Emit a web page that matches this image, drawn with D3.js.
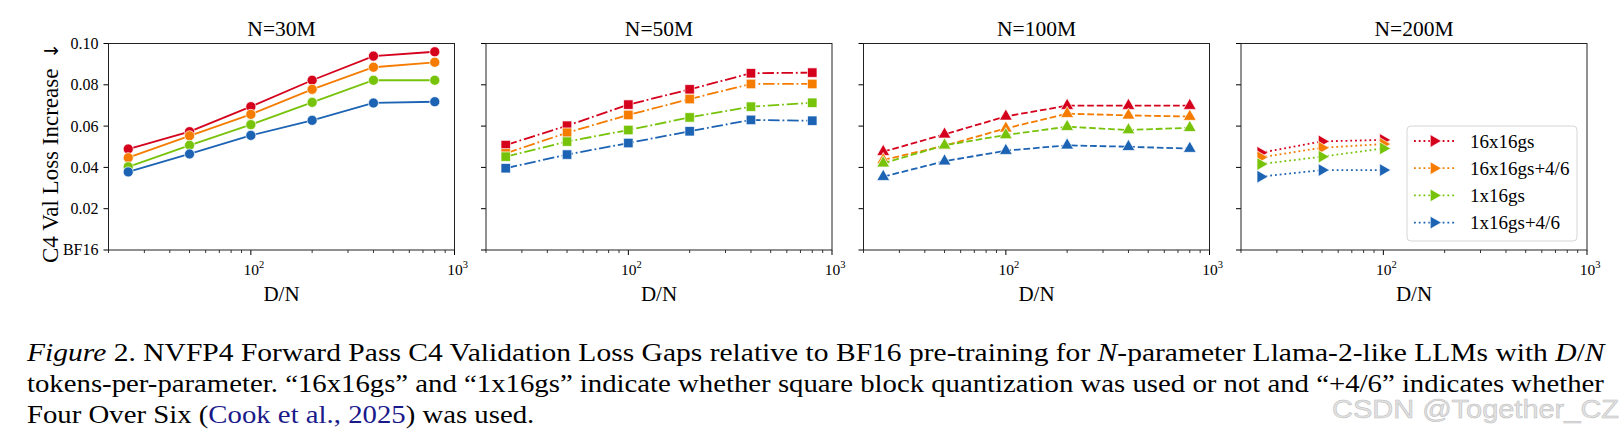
<!DOCTYPE html>
<html>
<head>
<meta charset="utf-8">
<script src="https://cdn.jsdelivr.net/npm/d3@7"></script>
<style>
  html, body { margin: 0; padding: 0; background: #fff; }
  svg { display: block; }
  text { font-family: "Liberation Serif", "Times New Roman", serif; fill: #000; }
</style>
</head>
<body>
<div id="chartContainer"></div>
<script>
// Data
const ratios = [25, 50, 100, 200, 400, 800];
const panelTitles = ['N=30M', 'N=50M', 'N=100M', 'N=200M'];
const seriesNames = ['16x16gs', '16x16gs+4/6', '1x16gs', '1x16gs+4/6'];
const seriesColors = ['#d5001c', '#f57c00', '#77c30a', '#1c63b4'];
const yTickValues = [0, 0.02, 0.04, 0.06, 0.08, 0.10];
const yTickLabels = ['BF16', '0.02', '0.04', '0.06', '0.08', '0.10'];
const xMajorTicks = [100, 1000];
const xTickExponents = ['2', '3'];

// loss gap per series (rows: 16x16gs, 16x16gs+4/6, 1x16gs, 1x16gs+4/6)
const gap30M = [
  [0.0489, 0.0573, 0.0694, 0.0822, 0.0939, 0.0960],
  [0.0447, 0.0553, 0.0657, 0.0778, 0.0885, 0.0909],
  [0.0403, 0.0507, 0.0607, 0.0715, 0.0822, 0.0822],
  [0.0378, 0.0465, 0.0555, 0.0628, 0.0712, 0.0718]
];
const gap50M = [
  [0.0508, 0.0602, 0.0704, 0.0778, 0.0856, 0.0859],
  [0.0468, 0.0568, 0.0654, 0.0731, 0.0804, 0.0804],
  [0.0452, 0.0525, 0.0581, 0.0642, 0.0694, 0.0713],
  [0.0396, 0.0462, 0.0518, 0.0575, 0.0630, 0.0626]
];
const gap100M = [
  [0.0476, 0.0560, 0.0647, 0.0699, 0.0699, 0.0699],
  [0.0436, 0.0505, 0.0589, 0.0660, 0.0652, 0.0646],
  [0.0420, 0.0507, 0.0557, 0.0597, 0.0581, 0.0592],
  [0.0355, 0.0430, 0.0481, 0.0507, 0.0500, 0.0491]
];
const gap200M = [
  [0.0471, 0.0526, 0.0533],
  [0.0449, 0.0495, 0.0513],
  [0.0416, 0.0452, 0.0492],
  [0.0355, 0.0387, 0.0387]
];
const panelData = [gap30M, gap50M, gap100M, gap200M];

// Layout
const width = 1624, height = 438;
const plotLeft = 108.5, plotTop = 43.5, plotBottom = 250;
const panelW = 346, panelGap = 31.5;
const lineW = 1.8;
const dashes = ['none', `${6.4*lineW},${1.6*lineW},${1*lineW},${1.6*lineW}`, `${3.7*lineW},${1.6*lineW}`, `${1*lineW},${1.65*lineW}`];
const markerTypes = [
  {type: d3.symbolCircle, size: 80, rotate: 0},
  {type: d3.symbolSquare, size: 90, rotate: 0},
  {type: d3.symbolTriangle, size: 72, rotate: 0},
  {type: d3.symbolTriangle, size: 72, rotate: 90}
];

const svg = d3.select('#chartContainer')
  .append('svg')
  .attr('width', width)
  .attr('height', height);

const yScale = d3.scaleLinear().domain([0, 0.10]).range([plotBottom, plotTop]);

panelData.forEach((panel, p) => {
  const x0 = plotLeft + p * (panelW + panelGap);
  const xScale = d3.scaleLog().domain([20, 1000]).range([x0, x0 + panelW]);
  const g = svg.append('g').attr('class', 'panel');

  // x axis: major + minor ticks
  const minor = [];
  [10, 100].forEach(dec => {
    for (let k = 2; k <= 9; k++) {
      const v = dec * k;
      if (v >= 20 && v <= 1000 && v !== 100 && v !== 1000) minor.push(v);
    }
  });
  g.selectAll('.minor-tick').data(minor).enter().append('line')
    .attr('x1', d => xScale(d)).attr('x2', d => xScale(d))
    .attr('y1', plotBottom).attr('y2', plotBottom + 3)
    .attr('stroke', '#000').attr('stroke-width', 0.8);
  g.selectAll('.major-tick').data(xMajorTicks).enter().append('line')
    .attr('x1', d => xScale(d)).attr('x2', d => xScale(d))
    .attr('y1', plotBottom).attr('y2', plotBottom + 5)
    .attr('stroke', '#000').attr('stroke-width', 1);
  const xl = g.selectAll('.xlab').data(xMajorTicks).enter().append('text')
    .attr('x', d => xScale(d) + 3).attr('y', 275)
    .attr('text-anchor', 'middle').style('font-size', '15.5px');
  xl.append('tspan').text('10');
  xl.append('tspan').attr('dy', -7).style('font-size', '10.5px').text((d, i) => xTickExponents[i]);

  // y ticks
  g.selectAll('.ytick').data(yTickValues).enter().append('line')
    .attr('x1', x0 - 5).attr('x2', x0)
    .attr('y1', d => yScale(d)).attr('y2', d => yScale(d))
    .attr('stroke', '#000').attr('stroke-width', 1);
  if (p === 0) {
    g.selectAll('.ylab').data(yTickValues).enter().append('text')
      .attr('x', x0 - 10).attr('y', d => yScale(d)).attr('dy', '0.34em')
      .attr('text-anchor', 'end').style('font-size', '16px')
      .text((d, i) => yTickLabels[i]);
    const yl = svg.append('text')
      .attr('transform', 'translate(58, 263) rotate(-90)')
      .attr('text-anchor', 'start').style('font-size', '23px');
    yl.append('tspan').text('C4 Val Loss Increase ');
    yl.append('tspan').attr('dx', 4)
      .style('font-family', '"DejaVu Sans", sans-serif').style('font-size', '19px')
      .text('\u2193');
  }

  // frame
  g.append('rect')
    .attr('x', x0).attr('y', plotTop)
    .attr('width', panelW).attr('height', plotBottom - plotTop)
    .attr('fill', 'none').attr('stroke', '#222').attr('stroke-width', 1);

  // title and x label
  g.append('text').attr('x', x0 + panelW / 2).attr('y', 36)
    .attr('text-anchor', 'middle').style('font-size', '21.5px').text(panelTitles[p]);
  g.append('text').attr('x', x0 + panelW / 2).attr('y', 301)
    .attr('text-anchor', 'middle').style('font-size', '21px').text('D/N');

  // series
  const line = d3.line()
    .x(d => xScale(d[0]))
    .y(d => yScale(d[1]));
  panel.forEach((vals, s) => {
    const pts = vals.map((v, i) => [ratios[i], v]);
    g.append('path').datum(pts)
      .attr('fill', 'none')
      .attr('stroke', seriesColors[s])
      .attr('stroke-width', lineW)
      .attr('stroke-dasharray', dashes[p])
      .attr('d', line);
    const m = markerTypes[p];
    g.selectAll(`.mk-${s}`).data(pts).enter().append('path')
      .attr('transform', d => `translate(${xScale(d[0])}, ${yScale(d[1])}) rotate(${m.rotate})`)
      .attr('d', d3.symbol().type(m.type).size(m.size))
      .attr('fill', seriesColors[s])
      .attr('stroke', '#fff').attr('stroke-width', 0.7);
  });

  // legend in the last panel
  if (p === 3) {
    const lg = svg.append('g').attr('transform', 'translate(1407, 126)');
    lg.append('rect').attr('width', 170).attr('height', 115).attr('rx', 4)
      .attr('fill', '#fff').attr('fill-opacity', 0.8)
      .attr('stroke', '#d6d6d6').attr('stroke-width', 1);
    seriesNames.forEach((name, s) => {
      const cy = 15 + s * 27.2;
      lg.append('line').attr('x1', 7).attr('x2', 47).attr('y1', cy).attr('y2', cy)
        .attr('stroke', seriesColors[s]).attr('stroke-width', lineW)
        .attr('stroke-dasharray', dashes[3]);
      lg.append('path')
        .attr('transform', `translate(27, ${cy}) rotate(90)`)
        .attr('d', d3.symbol().type(d3.symbolTriangle).size(72))
        .attr('fill', seriesColors[s]).attr('stroke', '#fff').attr('stroke-width', 0.7);
      lg.append('text').attr('x', 63).attr('y', cy).attr('dy', '0.35em')
        .style('font-size', '19px').text(name);
    });
  }
});

// Caption
const capLeft = 27, capRight = 1605;
const cap = svg.append('g').attr('class', 'caption');
function captionLine(parts) {
  const t = cap.append('text').attr('y', 0).style('font-size', '25px');
  parts.forEach(pt => {
    const ts = t.append('tspan').text(pt.t);
    if (pt.i) ts.style('font-style', 'italic');
    if (pt.c) ts.style('fill', pt.c);
  });
  return t;
}
const l1 = captionLine([
  {t: 'Figure', i: true}, {t: ' 2. NVFP4 Forward Pass C4 Validation Loss Gaps relative to BF16 pre-training for '},
  {t: 'N', i: true}, {t: '-parameter Llama-2-like LLMs with '}, {t: 'D', i: true}, {t: '/'}, {t: 'N', i: true}
]);
const l2 = captionLine([
  {t: 'tokens-per-parameter. \u201c16x16gs\u201d and \u201c1x16gs\u201d indicate whether square block quantization was used or not and \u201c+4/6\u201d indicates whether'}
]);
const l3 = captionLine([
  {t: 'Four Over Six ('}, {t: 'Cook et al., 2025', c: '#1a1a8a'}, {t: ') was used.'}
]);
const w1 = l1.node().getComputedTextLength();
const w2 = l2.node().getComputedTextLength();
const s1 = (capRight - capLeft) / w1, s2 = (capRight - capLeft) / w2;
l1.attr('transform', `translate(${capLeft}, 361) scale(${s1}, 1)`);
l2.attr('transform', `translate(${capLeft}, 392) scale(${s2}, 1)`);
l3.attr('transform', `translate(${capLeft}, 423) scale(${s2}, 1)`);

// watermark
svg.append('text')
  .attr('x', 1332).attr('y', 418)
  .attr('textLength', 287).attr('lengthAdjust', 'spacingAndGlyphs')
  .style('font-family', '"Liberation Sans", Arial, sans-serif')
  .style('font-size', '25px')
  .style('fill', '#e2e2e2').style('stroke', '#bdbdbd').style('stroke-width', 0.5)
  .text('CSDN @Together_CZ');
</script>
</body>
</html>
